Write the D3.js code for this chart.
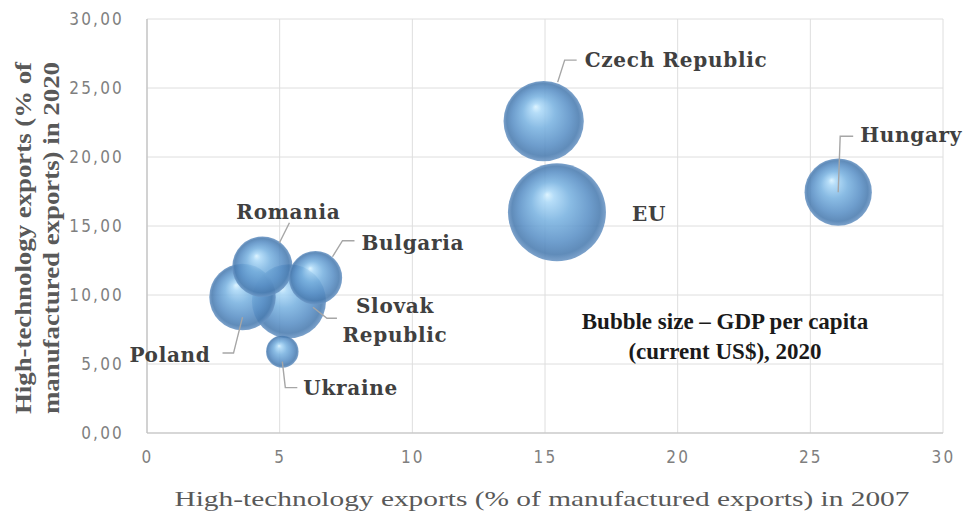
<!DOCTYPE html>
<html>
<head>
<meta charset="utf-8">
<script src="https://cdn.jsdelivr.net/npm/d3@7"></script>
<style>
  html, body { margin: 0; padding: 0; background: #ffffff; }
  svg { display: block; }
</style>
</head>
<body>
<svg id="chart" width="967" height="519"></svg>
<script>
// ---- data ----
const categories = ["EU", "Czech Republic", "Slovak Republic", "Hungary", "Poland", "Romania", "Bulgaria", "Ukraine"];
const hiTech2007 = [15.45, 14.95, 5.35, 26.05, 3.6, 4.35, 6.35, 5.1];
const hiTech2020 = [16.0, 22.6, 9.55, 17.45, 9.85, 12.05, 11.25, 5.9];
const gdpPerCapita2020 = [34100, 22900, 19500, 16100, 15700, 12900, 10100, 3750];
const xTicks = [0, 5, 10, 15, 20, 25, 30];
const yTicks = [0, 5, 10, 15, 20, 25, 30];
const xTitle = "High-technology exports (% of manufactured exports) in 2007";
const yTitleLines = ["High-technology exports (% of", "manufactured exports) in 2020"];
const noteLines = ["Bubble size \u2013 GDP per capita", "(current US$), 2020"];

// ---- label layout (offsets from bubble centre, px) ----
const labelLayout = {
  "EU":              { dx: 75,  dy: 2,   anchor: "start",  leader: null },
  "Czech Republic":  { dx: 41,  dy: -61, anchor: "start",  leader: [[14,-39],[21,-61],[33,-61]] },
  "Slovak Republic": { dx: 106, dy: 5,   anchor: "middle", lines: ["Slovak", "Republic"], leader: [[24,6],[38,17],[48,17]] },
  "Hungary":         { dx: 22,  dy: -57, anchor: "start",  leader: [[0,0],[2,-56],[15,-56]] },
  "Poland":          { dx: -32, dy: 58,  anchor: "end",    leader: [[0,20],[-9,56],[-20,56]] },
  "Romania":         { dx: 26,  dy: -55, anchor: "middle", leader: [[27,-44],[17,-24]] },
  "Bulgaria":        { dx: 46,  dy: -35, anchor: "start",  leader: [[17,-21],[27,-37],[39,-37]] },
  "Ukraine":         { dx: 21,  dy: 36,  anchor: "start",  leader: [[0,10],[3,36],[15,36]] }
};

const svg = d3.select("#chart");
const plot = { left: 147, right: 943, top: 19, bottom: 433 };

const x = d3.scaleLinear().domain([0, 30]).range([plot.left, plot.right]);
const y = d3.scaleLinear().domain([0, 30]).range([plot.bottom, plot.top]);
const r = d3.scaleSqrt().domain([0, d3.max(gdpPerCapita2020)]).range([0, 49]);

// gradient for 3D bubbles
const defs = svg.append("defs");
const grad = defs.append("radialGradient")
  .attr("id", "bubbleGrad")
  .attr("cx", "50%").attr("cy", "50%").attr("r", "50%")
  .attr("fx", "40%").attr("fy", "32%");
[
  [0.00, "#d8f2ff"],
  [0.12, "#abd8f7"],
  [0.40, "#79b2e0"],
  [0.72, "#5a90c6"],
  [0.90, "#4a7cb0"],
  [1.00, "#6a95c4"]
].forEach(([o, c]) => grad.append("stop").attr("offset", o).attr("stop-color", c));

// gridlines
const grid = svg.append("g");
grid.selectAll("line.v").data(xTicks).join("line")
  .attr("x1", d => x(d)).attr("x2", d => x(d))
  .attr("y1", plot.top).attr("y2", plot.bottom)
  .attr("stroke", "#dedede").attr("stroke-width", 1);
grid.selectAll("line.h").data(yTicks).join("line")
  .attr("x1", plot.left).attr("x2", plot.right)
  .attr("y1", d => y(d)).attr("y2", d => y(d))
  .attr("stroke", "#dedede").attr("stroke-width", 1);
// axis lines
svg.append("line").attr("x1", plot.left).attr("x2", plot.left).attr("y1", plot.top).attr("y2", plot.bottom)
  .attr("stroke", "#bfbfbf").attr("stroke-width", 1.2);
svg.append("line").attr("x1", plot.left).attr("x2", plot.right).attr("y1", plot.bottom).attr("y2", plot.bottom)
  .attr("stroke", "#bfbfbf").attr("stroke-width", 1.2);

// axes (tick labels only)
const fmtY = d => d3.format(".2f")(d).replace(".", ",");
const xAxis = d3.axisBottom(x).tickValues(xTicks).tickSize(0).tickPadding(0).tickFormat(d3.format("d"));
const yAxis = d3.axisLeft(y).tickValues(yTicks).tickSize(0).tickPadding(0).tickFormat(fmtY);
const gx = svg.append("g").attr("transform", `translate(0,${plot.bottom + 24})`).call(xAxis);
const gy = svg.append("g").attr("transform", `translate(${plot.left - 23},0)`).call(yAxis);
[gx, gy].forEach(g => {
  g.select(".domain").remove();
  g.selectAll("text")
    .attr("fill", "#7f7f7f")
    .style("font-family", "'Liberation Sans Narrow', 'DejaVu Sans Condensed', sans-serif")
    .style("font-size", "17px")
    .style("letter-spacing", "2.2px");
});
gy.selectAll("text").attr("dy", "0.35em");
gx.selectAll("text").attr("dy", "0.35em");

// data
const data = categories.map((c, i) => ({ name: c, x: hiTech2007[i], y: hiTech2020[i], gdp: gdpPerCapita2020[i] }));
const drawOrder = data.slice().sort((a, b) => b.gdp - a.gdp);

// bubbles
svg.append("g").selectAll("circle").data(drawOrder).join("circle")
  .attr("cx", d => x(d.x)).attr("cy", d => y(d.y)).attr("r", d => r(d.gdp))
  .attr("fill", "url(#bubbleGrad)")
  .attr("fill-opacity", 0.88);

// leader lines
const line = d3.line();
svg.append("g").selectAll("path").data(data.filter(d => labelLayout[d.name].leader)).join("path")
  .attr("d", d => line(labelLayout[d.name].leader.map(p => [x(d.x) + p[0], y(d.y) + p[1]])))
  .attr("fill", "none").attr("stroke", "#a6a6a6").attr("stroke-width", 1.4);

// labels
const labelFont = "'DejaVu Serif', 'Liberation Serif', serif";
const lg = svg.append("g");
data.forEach(d => {
  const L = labelLayout[d.name];
  const lines = L.lines || [d.name];
  const t = lg.append("text")
    .attr("x", x(d.x) + L.dx).attr("y", y(d.y) + L.dy)
    .attr("text-anchor", L.anchor)
    .attr("fill", "#404040")
    .style("font-family", labelFont)
    .style("font-size", "20px")
    .style("font-weight", "bold")
    .style("letter-spacing", "0.7px");
  lines.forEach((s, k) => {
    t.append("tspan").attr("x", x(d.x) + L.dx)
      .attr("dy", k === 0 ? "0.35em" : "1.45em").text(s);
  });
});

// bubble-size note
const note = svg.append("text")
  .attr("x", 725).attr("y", 321)
  .attr("text-anchor", "middle")
  .attr("fill", "#1a1a1a")
  .style("font-family", "'Liberation Serif', 'DejaVu Serif', serif")
  .style("font-size", "23px")
  .style("font-weight", "bold");
noteLines.forEach((s, k) => note.append("tspan").attr("x", 725).attr("dy", k === 0 ? "0.35em" : "1.3em").text(s));

// axis titles
svg.append("text")
  .attr("x", 542).attr("y", 498)
  .attr("text-anchor", "middle").attr("dy", "0.35em")
  .attr("fill", "#595959")
  .style("font-family", "'Liberation Serif', serif")
  .style("font-size", "22px")
  .attr("textLength", 735).attr("lengthAdjust", "spacingAndGlyphs")
  .text(xTitle);

const yt = svg.append("g").attr("transform", "translate(0,238) rotate(-90)");
yTitleLines.forEach((s, k) => {
  yt.append("text")
    .attr("x", 0).attr("y", 23 + k * 28)
    .attr("text-anchor", "middle").attr("dy", "0.35em")
    .attr("fill", "#595959")
    .style("font-family", "'Liberation Serif', serif")
    .style("font-size", "23px")
    .style("font-weight", "bold")
    .attr("textLength", 352).attr("lengthAdjust", "spacingAndGlyphs")
    .text(s);
});
</script>
</body>
</html>
